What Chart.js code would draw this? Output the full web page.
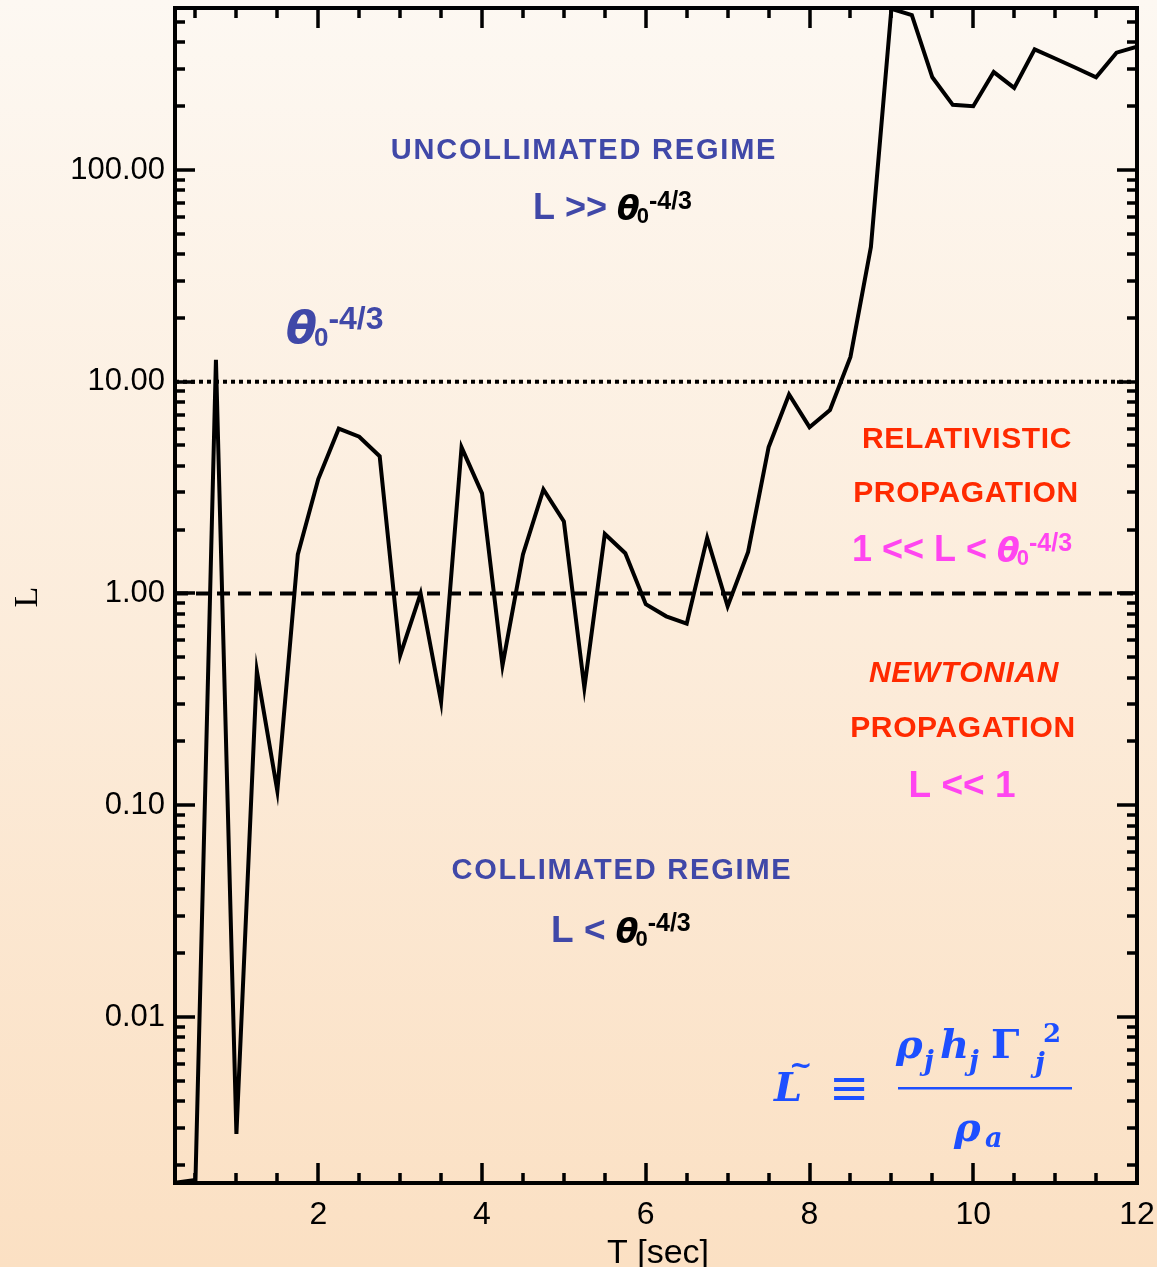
<!DOCTYPE html>
<html>
<head>
<meta charset="utf-8">
<script src="https://cdn.jsdelivr.net/npm/chart.js@4.4.1/dist/chart.umd.min.js"></script>
<style>
  html, body { margin: 0; padding: 0; background: #fcefe0; }
  #wrap { width: 1157px; height: 1267px; }
</style>
</head>
<body>
<div id="wrap"><canvas id="lumChart" width="1157" height="1267"></canvas></div>
<script>
// jet luminosity parameter L against time
const times = [0.25, 0.5, 0.75, 1.0, 1.25, 1.5, 1.75, 2.0, 2.25, 2.5, 2.75, 3.0,
               3.25, 3.5, 3.75, 4.0, 4.25, 4.5, 4.75, 5.0, 5.25, 5.5, 5.75, 6.0,
               6.25, 6.5, 6.75, 7.0, 7.25, 7.5, 7.75, 8.0, 8.25, 8.5, 8.75, 9.0,
               9.25, 9.5, 9.75, 10.0, 10.25, 10.5, 10.75, 11.0, 11.25, 11.5, 11.75, 12.0];
const lumValues = [0.00165, 0.0017, 12.7, 0.0028, 0.43, 0.117, 1.53, 3.47, 6.0, 5.5, 4.45, 0.51,
                   1.0, 0.307, 4.9, 2.97, 0.457, 1.53, 3.1, 2.19, 0.359, 1.91, 1.55, 0.89,
                   0.78, 0.72, 1.83, 0.87, 1.57, 4.9, 8.7, 6.1, 7.35, 13.1, 43.3, 577,
                   539, 274, 203, 200, 290, 244, 371, 336, 304, 274, 358, 382];

const yTickValues = [0.01, 0.1, 1, 10, 100];
const xTickValues = [2, 4, 6, 8, 10, 12];
const xMinorValues = [0.5, 1, 1.5, 2.5, 3, 3.5, 4.5, 5, 5.5, 6.5, 7, 7.5, 8.5, 9, 9.5, 10.5, 11, 11.5];

const thetaLevel = 10;   // theta0^-4/3
const unityLevel = 1;

const SANS = "'Liberation Sans', Arial, Helvetica, sans-serif";
const SERIF = "'Liberation Serif', 'Times New Roman', serif";
const MATH = "'DejaVu Serif', serif";
const BLUE = '#4048a8';
const RED = '#ff2a00';
const PINK = '#ff45f0';

// page background, light cream fading to peach
const backdrop = {
  id: 'backdrop',
  beforeDraw(chart) {
    const { ctx, width, height } = chart;
    const g = ctx.createLinearGradient(0, 0, 0, height);
    g.addColorStop(0, '#fdf8f2');
    g.addColorStop(1, '#fbe0c3');
    ctx.save();
    ctx.fillStyle = g;
    ctx.fillRect(0, 0, width, height);
    ctx.restore();
  }
};

// closed frame with inward ticks on all four sides
const frameTicks = {
  id: 'frameTicks',
  afterDatasetsDraw(chart) {
    const { ctx, chartArea: a, scales: { x, y } } = chart;
    ctx.save();
    ctx.strokeStyle = '#000';
    ctx.lineWidth = 3.5;
    ctx.beginPath();
    for (let d = -3; d <= 2; d++) {
      for (let m = 1; m <= 9; m++) {
        const v = m * Math.pow(10, d);
        if (v < y.min || v > y.max) continue;
        const py = Math.round(y.getPixelForValue(v));
        const len = m === 1 ? 20 : 10;
        ctx.moveTo(a.left, py); ctx.lineTo(a.left + len, py);
        ctx.moveTo(a.right, py); ctx.lineTo(a.right - len, py);
      }
    }
    xTickValues.concat(xMinorValues).forEach(v => {
      const px = Math.round(x.getPixelForValue(v));
      const len = xTickValues.includes(v) ? 20 : 10;
      ctx.moveTo(px, a.bottom); ctx.lineTo(px, a.bottom - len);
      ctx.moveTo(px, a.top); ctx.lineTo(px, a.top + len);
    });
    ctx.stroke();
    ctx.lineWidth = 4;
    ctx.strokeRect(a.left, a.top, a.right - a.left, a.bottom - a.top);
    ctx.restore();
  }
};

// run of differently styled pieces on one baseline
function drawRuns(ctx, runs, x, y, align) {
  let total = 0;
  runs.forEach(r => {
    ctx.font = r.font;
    ctx.letterSpacing = r.spacing || '0px';
    r.w = ctx.measureText(r.text).width + (r.kern || 0);
    total += r.w;
  });
  let cx = align === 'center' ? x - total / 2 : x;
  runs.forEach(r => {
    ctx.font = r.font;
    ctx.letterSpacing = r.spacing || '0px';
    ctx.fillStyle = r.color;
    ctx.fillText(r.text, cx, y + (r.dy || 0));
    cx += r.w;
  });
  ctx.letterSpacing = '0px';
}

function thetaRuns(color, s) {
  return [
    { text: '\u03b8', font: `oblique bold ${s.th}px 'DejaVu Sans', sans-serif`, color, dy: 1, kern: s.k || 0 },
    { text: '0', font: `bold ${s.sub}px ${SANS}`, color, dy: 4 },
    { text: '-4/3', font: `bold ${s.sup}px ${SANS}`, color, dy: s.up }
  ];
}

// the L definition: glyphs placed one by one
function drawDefinition(ctx) {
  const fb = '#1d4fff';
  const big = `italic bold 40px ${MATH}`;
  const sub = `italic bold 27px ${MATH}`;
  ctx.fillStyle = fb;
  ctx.textAlign = 'left';
  ctx.font = `italic bold 40px ${MATH}`;
  ctx.fillText('L', 774, 1101);
  ctx.font = `bold 28px ${MATH}`;
  ctx.fillText('~', 789, 1074);
  ctx.font = `48px 'DejaVu Sans', sans-serif`;
  ctx.fillText('\u2261', 829, 1104);
  ctx.font = big;
  ctx.fillText('\u03c1', 896, 1058);
  ctx.fillText('h', 940, 1058);
  ctx.font = `bold 40px ${MATH}`;
  ctx.fillText('\u0393', 991, 1058);
  ctx.font = sub;
  ctx.fillText('j', 924, 1070);
  ctx.fillText('j', 969, 1070);
  ctx.fillText('j', 1035, 1072);
  ctx.font = `bold 26px ${MATH}`;
  ctx.fillText('2', 1043, 1042);
  ctx.fillRect(898, 1087, 174, 2.5);
  ctx.font = big;
  ctx.fillText('\u03c1', 954, 1141);
  ctx.font = sub;
  ctx.fillText('a', 985, 1147);
}

const labels = {
  id: 'labels',
  afterDraw(chart) {
    const { ctx } = chart;
    ctx.save();
    ctx.textAlign = 'left';
    ctx.textBaseline = 'alphabetic';
    const sp = '1.8px';

    drawRuns(ctx, [{ text: 'UNCOLLIMATED REGIME', font: `bold 29px ${SANS}`, color: BLUE, spacing: sp }], 584, 159, 'center');
    drawRuns(ctx, [{ text: 'L >> ', font: `bold 36px ${SANS}`, color: BLUE }]
      .concat(thetaRuns('#000', { th: 33, sub: 22, sup: 25, up: -10, k: -3 })), 533, 219);

    drawRuns(ctx, thetaRuns(BLUE, { th: 45, sub: 26, sup: 32, up: -13, k: -3 }), 286, 342);

    drawRuns(ctx, [{ text: 'RELATIVISTIC', font: `bold 30px ${SANS}`, color: RED, spacing: '0.6px' }], 967, 448, 'center');
    drawRuns(ctx, [{ text: 'PROPAGATION', font: `bold 30px ${SANS}`, color: RED, spacing: '0.6px' }], 966, 502, 'center');
    drawRuns(ctx, [{ text: '1 << L < ', font: `bold 36px ${SANS}`, color: PINK }]
      .concat(thetaRuns(PINK, { th: 33, sub: 22, sup: 25, up: -10, k: -3 })), 852, 561);

    drawRuns(ctx, [{ text: 'NEWTONIAN', font: `italic bold 30px ${SANS}`, color: RED, spacing: '0.6px' }], 964, 682, 'center');
    drawRuns(ctx, [{ text: 'PROPAGATION', font: `bold 30px ${SANS}`, color: RED, spacing: '0.6px' }], 963, 737, 'center');
    drawRuns(ctx, [{ text: 'L << 1', font: `bold 37px ${SANS}`, color: PINK }], 962, 797, 'center');

    drawRuns(ctx, [{ text: 'COLLIMATED REGIME', font: `bold 29px ${SANS}`, color: BLUE, spacing: sp }], 622, 879, 'center');
    drawRuns(ctx, [{ text: 'L < ', font: `bold 37px ${SANS}`, color: BLUE }]
      .concat(thetaRuns('#000', { th: 33, sub: 22, sup: 25, up: -11, k: -3 })), 551, 942);

    drawDefinition(ctx);

    // axis titles
    ctx.fillStyle = '#000';
    ctx.font = `34px ${SANS}`;
    ctx.textAlign = 'center';
    ctx.fillText('T [sec]', 658, 1263);
    ctx.save();
    ctx.translate(37, 597);
    ctx.rotate(-Math.PI / 2);
    ctx.font = `34px ${SERIF}`;
    ctx.fillText('L', 0, 0);
    ctx.restore();
    ctx.restore();
  }
};

const series = times.map((t, i) => ({ x: t, y: lumValues[i] }));
const tStart = times[0];
const tEnd = times[times.length - 1];

new Chart(document.getElementById('lumChart'), {
  type: 'line',
  data: {
    datasets: [
      {
        label: 'L',
        data: series,
        borderColor: '#000',
        borderWidth: 4,
        pointRadius: 0,
        tension: 0
      },
      {
        label: 'theta0^-4/3',
        data: [{ x: tStart, y: thetaLevel }, { x: tEnd, y: thetaLevel }],
        borderColor: '#000',
        borderWidth: 4,
        borderDash: [4, 4],
        pointRadius: 0
      },
      {
        label: 'L = 1',
        data: [{ x: tStart, y: unityLevel }, { x: tEnd, y: unityLevel }],
        borderColor: '#000',
        borderWidth: 4,
        borderDash: [13, 8],
        pointRadius: 0
      }
    ]
  },
  options: {
    responsive: false,
    animation: false,
    devicePixelRatio: 1,
    layout: { padding: { top: 8, right: 20, left: 0, bottom: 0 } },
    plugins: { legend: { display: false }, tooltip: { enabled: false } },
    scales: {
      x: {
        type: 'linear',
        min: 0.25,
        max: 12,
        grid: { display: false, drawTicks: false },
        border: { display: false },
        afterBuildTicks: s => { s.ticks = xTickValues.map(v => ({ value: v })); },
        afterFit: s => { s.height = 84; s.paddingLeft = 0; s.paddingRight = 0; },
        ticks: { color: '#000', padding: 13, maxRotation: 0, autoSkip: false,
                 font: { family: SANS, size: 32 } }
      },
      y: {
        type: 'logarithmic',
        min: 0.001644,
        max: 582,
        grid: { display: false, drawTicks: false },
        border: { display: false },
        afterBuildTicks: s => { s.ticks = yTickValues.map(v => ({ value: v })); },
        afterFit: s => { s.width = 175; s.paddingTop = 0; s.paddingBottom = 0; },
        ticks: { color: '#000', padding: 10, autoSkip: false,
                 font: { family: SANS, size: 31 },
                 callback: v => Number(v).toFixed(2) }
      }
    }
  },
  plugins: [backdrop, frameTicks, labels]
});
</script>
</body>
</html>
